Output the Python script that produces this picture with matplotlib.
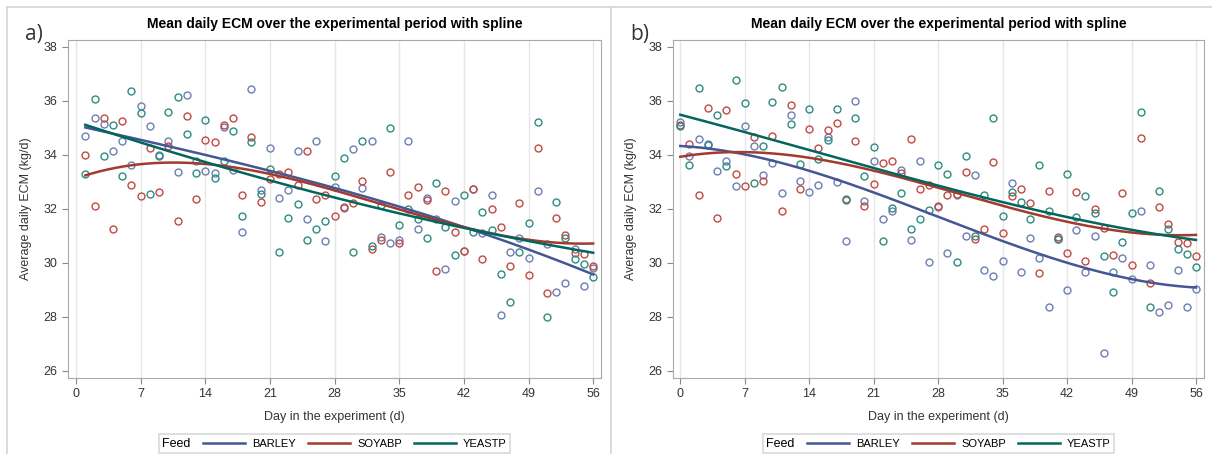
import numpy as np
import matplotlib
matplotlib.use("Agg")
import matplotlib.pyplot as plt
from matplotlib.lines import Line2D

plt.rcParams['font.family'] = ['Liberation Sans', 'DejaVu Sans']

# ---- data ----
days_a = np.arange(1, 57)
days_b = np.arange(0, 57)

barley_a = [34.69, 35.36, 35.15, 34.14, 34.52, 33.61, 35.82, 35.05, 34.00, 34.50, 33.37, 36.20, 33.79, 33.40,
            33.34, 35.03, 33.43, 31.16, 36.45, 32.69, 34.24, 32.42, 32.69, 34.16, 31.61, 34.52, 30.80, 32.80,
            32.04, 34.20, 32.78, 34.50, 30.95, 30.74, 30.84, 34.50, 31.26, 32.42, 31.64, 29.79, 32.31, 30.45,
            32.73, 31.09, 32.53, 28.08, 30.42, 30.94, 30.17, 32.67, 30.71, 28.92, 29.24, 30.53, 29.13, 29.82]
soyabp_a = [34.00, 32.11, 35.36, 31.27, 35.26, 32.90, 32.46, 34.27, 32.63, 34.31, 31.54, 35.43, 32.35, 34.56,
            34.46, 35.11, 35.36, 32.50, 34.66, 32.24, 33.09, 33.30, 33.37, 32.90, 34.16, 32.35, 32.50, 31.72,
            32.08, 32.22, 33.05, 30.50, 30.84, 33.37, 30.72, 32.53, 32.80, 32.32, 29.69, 32.67, 31.13, 30.45,
            32.73, 30.14, 32.00, 31.34, 29.90, 32.21, 29.55, 34.24, 28.89, 31.68, 31.05, 30.38, 30.34, 29.90]
yeastp_a = [33.30, 36.06, 33.95, 35.09, 33.22, 36.38, 35.54, 32.56, 33.95, 35.57, 36.14, 34.77, 33.34, 35.29,
            33.13, 33.79, 34.90, 31.72, 34.48, 32.56, 33.47, 30.42, 31.66, 32.17, 30.84, 31.24, 31.54, 33.22,
            33.89, 30.42, 34.52, 30.63, 32.14, 34.98, 31.40, 31.99, 31.64, 30.92, 32.94, 31.34, 30.31, 32.53,
            31.13, 31.87, 31.21, 29.58, 28.57, 30.42, 31.47, 35.20, 28.01, 32.27, 30.92, 30.14, 29.97, 29.48]

barley_b = [35.22, 33.96, 34.59, 34.40, 33.41, 33.77, 32.84, 35.06, 34.31, 33.24, 33.70, 32.59, 35.47, 33.05,
            32.63, 32.88, 34.67, 33.01, 30.80, 36.00, 32.31, 33.79, 31.64, 31.94, 33.45, 30.84, 33.79, 30.04,
            32.08, 30.35, 32.50, 31.01, 33.26, 29.75, 29.51, 30.08, 32.94, 29.68, 30.94, 30.17, 28.36, 30.90,
            28.99, 31.22, 29.66, 30.98, 26.67, 29.68, 30.20, 29.40, 31.93, 29.93, 28.19, 28.46, 29.75, 28.35, 29.05]
soyabp_b = [35.12, 34.40, 32.50, 35.75, 31.66, 35.66, 33.30, 32.84, 34.67, 33.03, 34.69, 31.94, 35.83, 32.74,
            34.95, 34.27, 34.91, 35.19, 32.32, 34.50, 32.11, 32.92, 33.69, 33.77, 33.32, 34.57, 32.73, 32.88,
            32.11, 32.50, 32.54, 33.37, 30.88, 31.24, 33.75, 31.09, 32.47, 32.73, 32.22, 29.62, 32.67, 30.96,
            30.35, 32.63, 30.08, 31.98, 31.30, 30.29, 32.59, 29.94, 34.63, 29.26, 32.08, 31.43, 30.77, 30.72, 30.27]
yeastp_b = [35.06, 33.64, 36.46, 34.37, 35.47, 33.57, 36.77, 35.93, 32.94, 34.31, 35.95, 36.50, 35.16, 33.68,
            35.68, 33.85, 34.54, 35.71, 32.38, 35.37, 33.22, 34.29, 30.80, 32.04, 32.57, 31.24, 31.62, 31.95,
            33.61, 33.30, 30.04, 33.96, 31.00, 32.50, 35.36, 31.75, 32.61, 32.25, 31.61, 33.61, 31.93, 30.87,
            33.30, 31.70, 32.46, 31.85, 30.25, 28.92, 30.77, 31.85, 35.58, 28.35, 32.67, 31.26, 30.52, 30.32, 29.86]

feeds = ["BARLEY", "SOYABP", "YEASTP"]
line_cols = ["#445694", "#A23A2E", "#01665E"]
mark_cols = ["#6F7EB3", "#C24A44", "#2E8C80"]

title = "Mean daily ECM over the experimental period with spline"

fig = plt.figure(figsize=(12.12, 4.54), dpi=100)

# light frame round the picture and between the panels
for xs, ys in [([7 / 1212, 1], [1 - 7 / 454] * 2), ([7 / 1212] * 2, [0, 1 - 7 / 454]),
               ([611 / 1212] * 2, [0, 1 - 7 / 454])]:
    fig.add_artist(Line2D(xs, ys, color="#d4d4d4", lw=1.2, transform=fig.transFigure))

panels = [
    ("a)", days_a, [barley_a, soyabp_a, yeastp_a], [68 / 1212, 0.168, 533 / 1212, 0.7438], (-0.87, 56.85)),
    ("b)", days_b, [barley_b, soyabp_b, yeastp_b], [673 / 1212, 0.168, 531 / 1212, 0.7438], (-0.79, 56.87)),
]

for tag, days, series, rect, xlim in panels:
    ax = fig.add_axes(rect)
    grid = np.linspace(days.min(), days.max(), 200)
    handles = []
    for vals, lc, mc, name in zip(series, line_cols, mark_cols, feeds):
        ax.plot(days, vals, linestyle="none", marker="o", markersize=5, mfc="none",
                mec=mc, mew=1.0, zorder=3)
        # smooth trend through the points (cubic fit)
        fit = np.poly1d(np.polyfit(days, vals, 3))
        h, = ax.plot(grid, fit(grid), color=lc, lw=1.8, zorder=4, label=name)
        handles.append(h)

    ax.set_xlim(*xlim)
    ax.set_ylim(25.75, 38.25)
    ax.set_xticks(range(0, 57, 7))
    ax.set_yticks(range(26, 39, 2))
    ax.grid(axis="x", color="#e6e6e6", lw=1)
    ax.set_axisbelow(True)
    for s in ax.spines.values():
        s.set_color("#a8a8a8")
    ax.tick_params(colors="#888888", labelcolor="#333333", labelsize=9, length=4, direction="out")
    ax.set_xlabel("Day in the experiment (d)", fontsize=9, color="#333333", labelpad=8)
    ax.set_ylabel("Average daily ECM (kg/d)", fontsize=9, color="#333333", labelpad=8)
    ax.set_title(title, fontsize=10, fontweight="bold", pad=9)
    ax.text(-0.08, 1.015, tag, transform=ax.transAxes, fontsize=15, family=["Open Sans", "DejaVu Sans"],
            color="#333333", va="center", ha="left")

    leg = ax.legend(handles=handles, title="Feed", ncol=3, loc="center", bbox_to_anchor=(0.5, -0.195),
                    frameon=True, fancybox=False, edgecolor="#d0d0d0", fontsize=8, title_fontsize=9,
                    handlelength=3.8, handletextpad=0.6, columnspacing=0.2, borderpad=0.3)
    leg.get_frame().set_linewidth(1.2)
    # put the legend title to the left of the entries
    box = leg.get_children()[0]
    ttl, entries = box.get_children()[0], box.get_children()[1]
    box._children = [entries]
    entries._children = [ttl] + entries.get_children()
    entries.sep = 9

fig.savefig("out.png", dpi=100)
